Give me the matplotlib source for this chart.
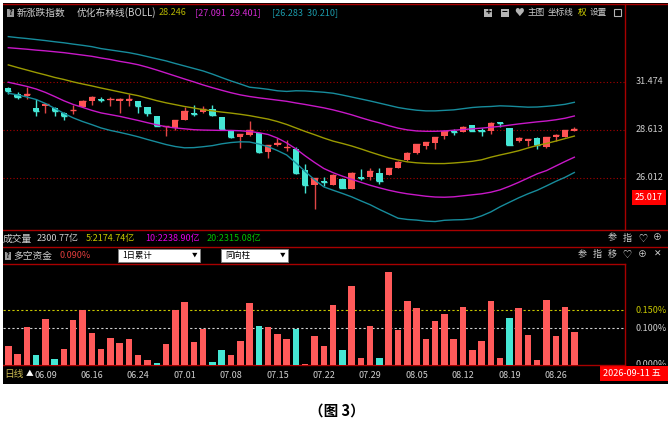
import numpy as np
import pandas as pd
import matplotlib
matplotlib.use('Agg')
import matplotlib.pyplot as plt
from matplotlib.patches import Rectangle

plt.rcParams['font.family'] = ['Noto Sans CJK SC', 'DejaVu Sans']

# 交易日 2026.06.03 - 08.28 (06.19 端午休市)
dates = [d for d in pd.bdate_range('2026-06-03', '2026-08-28')
         if d != pd.Timestamp('2026-06-19')]

opens = [31.07, 30.72, 30.61, 29.88, 30.01, 29.88, 29.57, 29.73, 29.95, 30.31,
         30.41, 30.33, 30.27, 30.29, 30.27, 29.92, 29.41, 28.75, 28.70, 29.17,
         29.56, 29.62, 29.80, 29.33, 28.60, 28.18, 28.33, 28.41, 27.36, 27.75,
         27.57, 27.52, 26.41, 25.65, 25.82, 25.65, 25.94, 25.43, 26.03, 26.07,
         26.27, 26.16, 26.50, 26.96, 27.29, 27.70, 27.89, 28.26, 28.51, 28.49,
         28.87, 28.57, 28.56, 29.04, 28.70, 27.99, 27.99, 28.13, 27.63, 28.22,
         28.22, 28.56]
highs = [31.12, 30.84, 31.13, 30.41, 30.14, 29.95, 29.66, 30.05, 30.32, 30.59,
         30.51, 30.51, 30.44, 30.72, 30.28, 29.94, 29.42, 28.82, 29.17, 29.92,
         30.05, 29.99, 30.05, 29.35, 28.61, 28.37, 29.11, 28.43, 27.78, 28.13,
         28.03, 27.65, 26.73, 26.00, 26.07, 26.21, 25.98, 26.28, 26.45, 26.51,
         26.53, 26.51, 26.86, 27.35, 27.81, 27.92, 28.20, 28.57, 28.64, 28.80,
         28.89, 28.70, 29.03, 29.07, 28.71, 28.22, 28.10, 28.18, 28.20, 28.37,
         28.60, 28.77]
lows = [30.72, 30.43, 30.39, 29.42, 29.60, 29.42, 29.17, 29.51, 29.94, 30.05,
        30.23, 30.01, 29.57, 29.99, 29.60, 29.41, 28.80, 28.26, 28.60, 29.14,
        29.41, 29.57, 29.41, 28.60, 28.14, 27.57, 28.26, 27.34, 27.03, 27.72,
        27.44, 26.18, 25.23, 24.45, 25.57, 25.63, 25.47, 25.42, 25.90, 25.90,
        25.70, 26.13, 26.49, 26.91, 27.26, 27.55, 27.55, 28.07, 28.32, 28.46,
        28.51, 28.26, 28.37, 28.79, 27.73, 27.94, 27.70, 27.52, 27.59, 27.99,
        28.20, 28.54]
closes = [30.92, 30.55, 30.70, 29.72, 30.11, 29.72, 29.42, 29.78, 30.31, 30.55,
          30.36, 30.38, 30.43, 30.38, 30.00, 29.57, 28.83, 28.81, 29.15, 29.72,
          29.50, 29.80, 29.47, 28.64, 28.18, 28.35, 28.60, 27.39, 27.75, 27.85,
          27.66, 26.27, 25.65, 25.99, 25.77, 26.17, 25.48, 26.27, 25.98, 26.36,
          25.85, 26.50, 26.85, 27.32, 27.80, 27.90, 28.18, 28.56, 28.46, 28.79,
          28.53, 28.53, 29.02, 29.00, 27.75, 28.13, 28.09, 27.75, 28.18, 28.32,
          28.60, 28.64]

# 优化布林线
boll_mid = [32.54, 32.37, 32.21, 32.05, 31.90, 31.74, 31.61, 31.46, 31.33, 31.21,
            31.08, 30.96, 30.84, 30.72, 30.61, 30.46, 30.31, 30.18, 30.07, 29.96,
            29.87, 29.77, 29.70, 29.63, 29.57, 29.50, 29.42, 29.32, 29.22, 29.08,
            28.91, 28.71, 28.51, 28.33, 28.14, 27.97, 27.84, 27.70, 27.54, 27.37,
            27.21, 27.06, 26.94, 26.84, 26.79, 26.76, 26.75, 26.75, 26.78, 26.82,
            26.87, 26.95, 27.09, 27.21, 27.32, 27.44, 27.59, 27.73, 27.84, 27.97,
            28.11, 28.25]
boll_up1 = [33.67, 33.62, 33.57, 33.51, 33.46, 33.40, 33.34, 33.26, 33.18, 33.10,
            32.99, 32.89, 32.77, 32.67, 32.55, 32.39, 32.21, 32.02, 31.83, 31.64,
            31.46, 31.27, 31.10, 30.94, 30.79, 30.66, 30.56, 30.48, 30.41, 30.34,
            30.27, 30.17, 30.08, 29.98, 29.88, 29.76, 29.62, 29.47, 29.30, 29.14,
            29.00, 28.84, 28.70, 28.60, 28.54, 28.52, 28.52, 28.54, 28.58, 28.62,
            28.66, 28.70, 28.75, 28.80, 28.87, 28.94, 29.00, 29.06, 29.11, 29.18,
            29.27, 29.40]
boll_dn1 = [31.44, 31.31, 31.18, 31.02, 30.81, 30.56, 30.30, 30.08, 29.91, 29.73,
            29.58, 29.48, 29.38, 29.26, 29.14, 29.01, 28.89, 28.78, 28.71, 28.66,
            28.61, 28.59, 28.58, 28.57, 28.57, 28.55, 28.51, 28.44, 28.34, 28.14,
            27.87, 27.54, 27.16, 26.81, 26.49, 26.27, 26.09, 25.93, 25.77, 25.62,
            25.49, 25.37, 25.27, 25.19, 25.13, 25.07, 25.03, 25.02, 25.04, 25.09,
            25.14, 25.19, 25.27, 25.39, 25.57, 25.77, 25.99, 26.21, 26.38, 26.62,
            26.86, 27.09]
boll_up2 = [34.42, 34.35, 34.29, 34.22, 34.15, 34.07, 34.00, 33.91, 33.83, 33.74,
            33.61, 33.52, 33.43, 33.34, 33.22, 33.08, 32.94, 32.80, 32.63, 32.47,
            32.31, 32.15, 31.95, 31.73, 31.52, 31.33, 31.13, 31.07, 31.00, 30.91,
            30.87, 30.91, 30.90, 30.86, 30.82, 30.76, 30.65, 30.53, 30.41, 30.29,
            30.16, 30.03, 29.90, 29.81, 29.74, 29.70, 29.70, 29.73, 29.76, 29.83,
            29.90, 29.94, 29.96, 30.00, 29.98, 29.95, 29.92, 29.93, 29.97, 30.02,
            30.09, 30.21]
boll_dn2 = [30.76, 30.66, 30.53, 30.38, 30.14, 29.85, 29.55, 29.29, 29.08, 28.90,
            28.71, 28.57, 28.46, 28.34, 28.21, 28.06, 27.92, 27.78, 27.67, 27.60,
            27.61, 27.66, 27.72, 27.82, 27.89, 27.93, 27.92, 27.81, 27.66, 27.45,
            27.21, 26.78, 26.33, 25.90, 25.54, 25.37, 25.21, 25.04, 24.84, 24.65,
            24.42, 24.21, 24.00, 23.94, 23.91, 23.86, 23.84, 23.90, 23.92, 23.93,
            23.97, 24.11, 24.30, 24.55, 24.77, 24.99, 25.19, 25.37, 25.59, 25.82,
            26.03, 26.28]

# 多空资金 (%)，负值画青色
fund = [0.050, 0.030, 0.102, -0.025, 0.124, -0.014, 0.042, 0.122, 0.150, 0.088,
        0.042, 0.072, 0.059, 0.069, 0.025, 0.013, -0.005, 0.056, 0.150, 0.173,
        0.061, 0.097, -0.008, -0.041, 0.025, 0.065, 0.169, -0.107, 0.103, 0.085,
        0.070, -0.099, 0.002, 0.078, 0.052, 0.164, -0.039, 0.217, 0.019, 0.107,
        -0.019, 0.254, 0.095, 0.174, 0.155, 0.070, 0.119, 0.139, 0.070, 0.158,
        0.041, 0.064, 0.174, 0.019, -0.127, 0.156, 0.081, 0.012, 0.178, 0.079,
        0.158, 0.090]

price_ticks = [31.474, 28.613, 26.012]
price_mark = 25.017
fund_ticks = [0.150, 0.100, 0.000]

W, H = 670, 426
RED, TEAL = '#ff5454', '#45e6d4'
LINE = '#a80000'
GREY = '#cfcfcf'


def box(x0, y0, x1, y1):
    # 像素框(左上原点) -> figure 坐标
    return [x0 / W, 1 - y1 / H, (x1 - x0) / W, (y1 - y0) / H]


def bare(a):
    a.set_facecolor('none')
    a.tick_params(which='both', left=False, bottom=False,
                  labelleft=False, labelbottom=False)
    for s in a.spines.values():
        s.set_visible(False)


fig = plt.figure(figsize=(W / 100, H / 100), dpi=100)
fig.patch.set_facecolor('white')

# 黑底 + 像素坐标，用来画分隔线和标题文字
bg = fig.add_axes(box(3, 3, 668, 384))
bg.set_xlim(3, 668)
bg.set_ylim(384, 3)
bare(bg)
bg.set_facecolor('black')


def ptxt(x, y, s, color=GREY, size=6.5, ha='left', **kw):
    bg.text(x, y, s, color=color, fontsize=size, ha=ha, va='center', **kw)


for y0, x1 in [(4, 668), (229.5, 668), (246.5, 668), (263.5, 625), (364.5, 625)]:
    bg.plot([3, x1], [y0, y0], color=LINE, lw=1)
bg.plot([625, 625], [4, 229.5], color=LINE, lw=1)
bg.plot([625, 625], [263.5, 364.5], color=LINE, lw=1)

# 标题行
bg.add_patch(Rectangle((7, 8.5), 6.5, 8, fc='#9a9a9a', ec='none'))
ptxt(10.3, 12.7, '?', color='black', size=5.5, ha='center', weight='bold')
ptxt(17, 12.5, '新涨跌指数', size=7)
ptxt(77, 12.5, '优化布林线(BOLL)', size=7)
ptxt(159, 12.5, '28.246', color='#b4b400')
ptxt(195, 12.5, '[27.091  29.401]', color='#d22ad2')
ptxt(272, 12.5, '[26.283  30.210]', color='#1a9aaa')
for bx, sym in [(484, '+'), (500.5, '−')]:
    bg.add_patch(Rectangle((bx, 8.5), 8, 8, fc='#b4b4b4', ec='none'))
    ptxt(bx + 4, 12.3, sym, color='black', size=7, ha='center', weight='bold')
ptxt(519, 12.5, '♥', color='#b4b4b4', size=7, ha='center')
ptxt(528, 12.5, '主图', size=6.2)
ptxt(548, 12.5, '坐标线', size=6.2)
ptxt(578, 12.5, '权', color='#e0e000', size=6.2)
ptxt(590, 12.5, '设置', size=6.2)
bg.add_patch(Rectangle((614, 9), 7, 7, fc='none', ec='#b4b4b4', lw=0.8))

# 成交量行
ptxt(3, 238.5, '成交量', size=7)
ptxt(37, 238.5, '2300.77亿')
ptxt(86, 238.5, '5:2174.74亿', color='#c8c800')
ptxt(145, 238.5, '10:2238.90亿', color='#e000e0')
ptxt(207, 238.5, '20:2315.08亿', color='#00c000')
for xx, s in [(612.5, '参'), (627, '指'), (642.5, '♡'), (657.5, '⊕')]:
    ptxt(xx, 238, s, size=6.5, ha='center')

# 多空资金行
bg.add_patch(Rectangle((5, 251.5), 6, 8, fc='#9a9a9a', ec='none'))
ptxt(8, 255.7, '?', color='black', size=5.5, ha='center', weight='bold')
ptxt(13, 255.5, '多空资金', size=7)
ptxt(59, 255.5, '0.090%', color='#e03c3c')
for bx0, bx1, label in [(118, 200, '1日累计'), (221, 288, '同向柱')]:
    bg.add_patch(Rectangle((bx0, 249), bx1 - bx0, 13, fc='white', ec='#808080', lw=0.6))
    ptxt(bx0 + 4, 255.5, label, color='black', size=6)
    ptxt(bx1 - 5, 255.5, '▼', color='black', size=4, ha='center')
for xx, s in [(582.5, '参'), (597.5, '指'), (612.5, '移'), (627, '♡'),
              (642.5, '⊕'), (657.5, '✕')]:
    ptxt(xx, 254.5, s, size=6.5, ha='center')

x = np.arange(len(dates))
XLIM = (-0.57, 66.46)

# 主图：K线 + 布林线（对数坐标）
ax = fig.add_axes(box(3, 5, 625, 229))
ax.set_yscale('log')
ax.set_ylim(23.49, 36.65)
ax.set_xlim(*XLIM)
bare(ax)
for p in price_ticks:
    ax.axhline(p, color=LINE, lw=0.8, ls=(0, (1, 2)), zorder=1)

o, h, l, c = map(np.array, (opens, highs, lows, closes))
up = c >= o
col = np.where(up, RED, TEAL)
ax.vlines(x, l, h, colors=np.where(up, '#e04646', TEAL), lw=1, zorder=3)
ax.bar(x, np.abs(c - o), bottom=np.minimum(o, c), width=0.68,
       color=col, lw=0, zorder=4)
ax.hlines(c, x - 0.34, x + 0.34, colors=col, lw=1, zorder=4)

ax.plot(x, boll_up2, color='#178c9c', lw=1, zorder=5)
ax.plot(x, boll_dn2, color='#178c9c', lw=1, zorder=5)
ax.plot(x, boll_up1, color='#c818c8', lw=1, zorder=5)
ax.plot(x, boll_dn1, color='#c818c8', lw=1, zorder=5)
ax.plot(x, boll_mid, color='#9a9a00', lw=1, zorder=5)

axr = fig.add_axes(box(625, 5, 668, 229))
axr.set_yscale('log')
axr.set_ylim(23.49, 36.65)
axr.set_xlim(0, 43)
bare(axr)
for p in price_ticks:
    axr.text(11, p, f'{p:.3f}', color=GREY, fontsize=6.5, va='center')
axr.text(10, price_mark, f'{price_mark:.3f}', color='white', fontsize=6.5,
         va='center', bbox=dict(boxstyle='square,pad=0.35', fc='#ff0000', ec='none'))

# 副图：多空资金
f = np.array(fund)
axb = fig.add_axes(box(3, 263.5, 625, 364.5))
axb.set_xlim(*XLIM)
axb.set_ylim(0, 0.278)
bare(axb)
axb.axhline(0.15, color='#c8c800', lw=0.8, ls=(0, (2, 2)), zorder=1)
axb.axhline(0.10, color=GREY, lw=0.8, ls=(0, (2, 2)), zorder=1)
axb.bar(x, np.abs(f), width=0.7, color=np.where(f >= 0, '#ff5a5a', TEAL),
        lw=0, zorder=2)

axbr = fig.add_axes(box(625, 263.5, 668, 364.5))
axbr.set_xlim(0, 43)
axbr.set_ylim(0, 0.278)
bare(axbr)
for v, cc in zip(fund_ticks, ['#c8c800', GREY, GREY]):
    axbr.text(10, v, f'{v:.3f}%', color=cc, fontsize=6.5, va='center', clip_on=True)

# 日期行
axd = fig.add_axes(box(3, 364.5, 625, 384))
axd.set_xlim(*XLIM)
axd.set_ylim(0, 1)
bare(axd)
for i in range(4, len(dates), 5):
    axd.text(i, 0.45, dates[i].strftime('%m.%d'), color=GREY, fontsize=6.5,
             ha='center', va='center')
ptxt(4, 374, '日线', color='#c8b850', size=7)
ptxt(29.5, 374, '▲', color='white', size=5.5, ha='center')
bg.add_patch(Rectangle((600, 366), 68, 15, fc='#ff0000', ec='none'))
ptxt(603, 373.5, '2026-09-11 五', color='white', size=6.5)

fig.text(337 / W, 1 - 411 / H, '（图 3）', ha='center', va='center',
         fontsize=10.5, fontweight='bold', color='black')

fig.savefig('out.png', dpi=100, facecolor='white')
